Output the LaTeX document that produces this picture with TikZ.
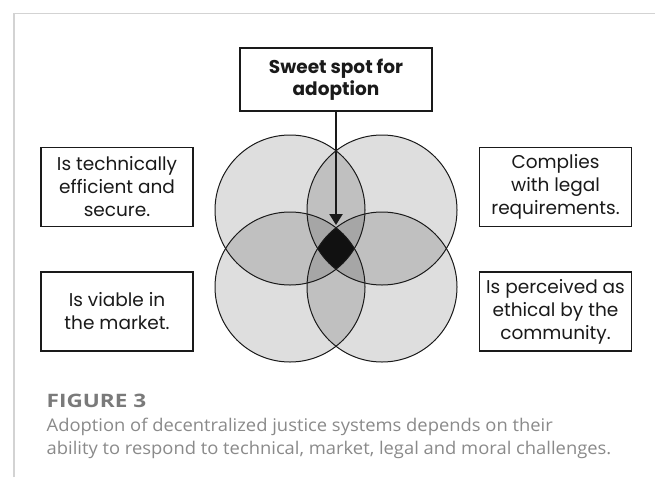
\documentclass[tikz,border=0pt]{standalone}
\usepackage{fontspec}
\usetikzlibrary{arrows.meta}
\newfontfamily\boxfont{Poppins}
\newfontfamily\capfont[FakeStretch=1.05]{Open Sans}
\newfontfamily\captitlefont[FakeStretch=1.22]{Open Sans}
\definecolor{one}{HTML}{DEDEDE}
\definecolor{two}{HTML}{C0C0C0}
\definecolor{three}{HTML}{A6A6A6}
\definecolor{four}{HTML}{111111}
\definecolor{framegray}{HTML}{D3D3D3}
\definecolor{capgray}{HTML}{7A7A7A}
\definecolor{captxt}{HTML}{8A8A8A}
\definecolor{ink}{HTML}{1A1A1A}
\pgfdeclarelayer{bg}
\pgfsetlayers{bg,main}
\begin{document}
\begin{tikzpicture}[x=1pt,y=-1pt,
  labelbox/.style={draw=ink, line width=1.1pt, fill=white, minimum width=152pt, minimum height=79pt,
    inner sep=0pt, align=center, font=\boxfont\fontsize{18.5}{23}\selectfont, text=ink},
  sweetbox/.style={draw=ink, line width=2.2pt, fill=white, minimum width=192pt, minimum height=63pt,
    inner sep=0pt, align=center, font=\boxfont\bfseries\fontsize{18.5}{22}\selectfont, text=ink},
  ring/.style={circle, draw=ink, line width=1pt, minimum size=150pt, inner sep=0pt},
  conn/.style={draw=black!70, line width=1pt},
  captitle/.style={anchor=base west, inner sep=0pt, text=capgray, font=\captitlefont\bfseries\fontsize{18.5}{20}\selectfont},
  captext/.style={anchor=base west, inner sep=0pt, text=captxt, font=\capfont\fontsize{17.5}{20}\selectfont}
]
\useasboundingbox (0,0) rectangle (655,477);
\fill[white] (0,0) rectangle (655,477);
\draw[framegray, line width=1.3pt] (14,477) -- (14,13.5) -- (655,13.5);

\coordinate (ctl) at (290,210);
\coordinate (ctr) at (382,210);
\coordinate (cbl) at (290,287);
\coordinate (cbr) at (382,287);

% fills
\foreach \a in {ctl,ctr,cbl,cbr} \fill[one] (\a) circle[radius=75pt];
\foreach \a/\b in {ctl/ctr, ctl/cbl, ctl/cbr, ctr/cbl, ctr/cbr, cbl/cbr} {
  \begin{scope}\clip (\a) circle[radius=75pt]; \fill[two] (\b) circle[radius=75pt];\end{scope}
}
\foreach \a/\b/\c in {ctl/ctr/cbl, ctl/ctr/cbr, ctl/cbl/cbr, ctr/cbl/cbr} {
  \begin{scope}\clip (\a) circle[radius=75pt]; \clip (\b) circle[radius=75pt]; \fill[three] (\c) circle[radius=75pt];\end{scope}
}
\begin{scope}
  \clip (ctl) circle[radius=75pt]; \clip (ctr) circle[radius=75pt]; \clip (cbl) circle[radius=75pt];
  \fill[four] (cbr) circle[radius=75pt];
\end{scope}

% rings
\node[ring] (tl) at (ctl) {};
\node[ring] (tr) at (ctr) {};
\node[ring] (bl) at (cbl) {};
\node[ring] (br) at (cbr) {};

% boxes
\node[labelbox] (b1) at (117,187) {Is technically\\efficient and\\secure.};
\node[labelbox] (b2) at (117,311.5) {Is viable in\\the market.};
\node[labelbox] (b3) at (555.5,187) {Complies\\with legal\\requirements.};
\node[labelbox] (b4) at (555.5,311.5) {Is perceived as\\ethical by the\\community.};
\node[sweetbox] (sw) at (336,79.5) {Sweet spot for\\adoption};

% connectors
\begin{pgfonlayer}{bg}
\draw[conn] (b1.east) -- (b1.east -| tl.west);
\draw[conn] (b2.east) -- (b2.east -| bl.west);
\draw[conn] (b3.west) -- (b3.west -| tr.east);
\draw[conn] (b4.west) -- (b4.west -| br.east);
\end{pgfonlayer}

\coordinate (tip) at (336,225);
\draw[ink, line width=2.2pt, -{Triangle[length=11pt,width=13pt]}] (sw.south) -- (tip);

% caption
\node[captitle] (fig) at (46.5,407.7) {FIGURE 3};
\node[captext] (c1) at (46.5,431.7) {Adoption of decentralized justice systems depends on their};
\node[captext] (c2) at (46.5,454.5) {ability to respond to technical, market, legal and moral challenges.};
\end{tikzpicture}
\end{document}
